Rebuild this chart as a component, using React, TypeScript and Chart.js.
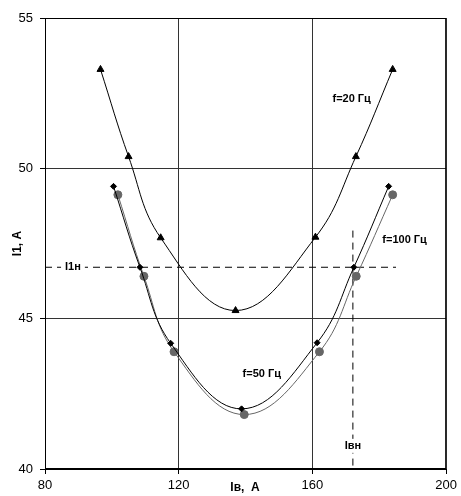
import React, { useEffect, useRef } from "react";
import { Chart, registerables } from "chart.js";

Chart.register(...registerables);

// Data
const iv20 = [96.6, 105.0, 114.6, 137.0, 160.9, 173.0, 184.0];
const i20 = [53.29, 50.39, 47.69, 45.27, 47.71, 50.39, 53.29];
const iv50 = [100.5, 108.4, 117.6, 138.8, 161.4, 172.4, 182.8];
const i50 = [49.4, 46.71, 44.18, 42.0, 44.2, 46.71, 49.4];
const iv100 = [101.8, 109.6, 118.6, 139.6, 162.1, 173.1, 184.0];
const i100 = [49.12, 46.41, 43.9, 41.81, 43.9, 46.41, 49.12];

const i1nLineX = [80, 185];
const i1nLineY = [46.71, 46.71];
const ivnLineX = [172.1, 172.1];
const ivnLineY = [47.93, 40];

const xTicks = [80, 120, 160, 200];
const yTicks = [40, 45, 50, 55];

const pts = (xs: number[], ys: number[]) => xs.map((x, i) => ({ x, y: ys[i] }));

const textPlugin = {
  id: "texts",
  afterDatasetsDraw(chart: any) {
    const { ctx, scales } = chart;
    const sx = scales.x;
    const sy = scales.y;
    ctx.save();
    ctx.fillStyle = "#000";
    ctx.textBaseline = "middle";
    const label = (
      t: string,
      vx: number,
      vy: number,
      align: CanvasTextAlign,
      bg: boolean
    ) => {
      const px = sx.getPixelForValue(vx);
      const py = sy.getPixelForValue(vy);
      ctx.font = "bold 11px 'Liberation Sans', Arial, sans-serif";
      const w = ctx.measureText(t).width;
      if (bg) {
        ctx.fillStyle = "#fff";
        const left = align === "center" ? px - w / 2 : px;
        ctx.fillRect(left - 4, py - 7, w + 8, 14);
        ctx.fillStyle = "#000";
      }
      ctx.textAlign = align;
      ctx.fillText(t, px, py);
    };
    label("f=20 Гц", 166.0, 52.3, "left", false);
    label("f=100 Гц", 180.9, 47.63, "left", false);
    label("f=50 Гц", 139.1, 43.17, "left", false);
    label("I1н", 86.0, 46.73, "left", true);
    label("Iвн", 172.1, 40.77, "center", true);

    // axis titles
    ctx.font = "bold 12px 'Liberation Sans', Arial, sans-serif";
    ctx.textAlign = "center";
    ctx.fillText("Iв,  А", 245, 488);
    ctx.translate(17.5, 243.5);
    ctx.rotate(-Math.PI / 2);
    ctx.fillText("I1, A", 0, 0);
    ctx.restore();
  },
};

export default function App() {
  const ref = useRef<HTMLCanvasElement>(null);
  useEffect(() => {
    if (!ref.current) return;
    const font = { family: "'Liberation Sans', Arial, sans-serif", size: 13 };
    const chart = new Chart(ref.current, {
      type: "scatter",
      data: {
        datasets: [
          {
            label: "f=20 Гц",
            data: pts(iv20, i20),
            showLine: true,
            borderColor: "#000",
            backgroundColor: "#000",
            borderWidth: 1,
            tension: 0.4,
            pointStyle: "triangle",
            pointRadius: 4,
          },
          {
            label: "f=50 Гц",
            data: pts(iv50, i50),
            showLine: true,
            borderColor: "#000",
            backgroundColor: "#000",
            borderWidth: 1,
            tension: 0.4,
            pointStyle: "rectRot",
            pointRadius: 3,
          },
          {
            label: "f=100 Гц",
            data: pts(iv100, i100),
            showLine: true,
            borderColor: "#666",
            backgroundColor: "#666",
            borderWidth: 1,
            tension: 0.4,
            pointStyle: "circle",
            pointRadius: 4,
          },
          {
            label: "I1н",
            data: pts(i1nLineX, i1nLineY),
            showLine: true,
            borderColor: "#000",
            borderWidth: 1,
            borderDash: [7, 5],
            pointRadius: 0,
            tension: 0,
          },
          {
            label: "Iвн",
            data: pts(ivnLineX, ivnLineY),
            showLine: true,
            borderColor: "#000",
            borderWidth: 1,
            borderDash: [7, 5],
            pointRadius: 0,
            tension: 0,
          },
        ],
      },
      options: {
        animation: false,
        responsive: true,
        maintainAspectRatio: false,
        layout: { padding: { top: 18, right: 14, left: 0, bottom: 0 } },
        plugins: {
          legend: { display: false },
          tooltip: { enabled: false },
        },
        scales: {
          x: {
            type: "linear",
            min: 80,
            max: 200,
            afterFit: (s: any) => {
              s.height = 27;
            },
            afterBuildTicks: (s: any) => {
              s.ticks = xTicks.map((v) => ({ value: v }));
            },
            ticks: { color: "#000", font, padding: 4, maxRotation: 0 },
            grid: { color: "#333", lineWidth: 1, tickLength: 5, tickColor: "#000" },
            border: { color: "#000", width: 1 },
          },
          y: {
            type: "linear",
            min: 40,
            max: 55,
            afterFit: (s: any) => {
              s.width = 45;
            },
            afterBuildTicks: (s: any) => {
              s.ticks = yTicks.map((v) => ({ value: v }));
            },
            ticks: { color: "#000", font, padding: 7 },
            grid: { color: "#333", lineWidth: 1, tickLength: 5, tickColor: "#000" },
            border: { color: "#000", width: 1 },
          },
        },
      },
      plugins: [
        textPlugin,
        {
          id: "frame",
          afterDatasetsDraw(chart: any) {
            const { ctx, chartArea: a } = chart;
            ctx.save();
            ctx.strokeStyle = "#000";
            ctx.lineWidth = 1;
            ctx.strokeRect(a.left + 0.5, a.top + 0.5, a.right - a.left - 1, a.bottom - a.top - 1);
            ctx.restore();
          },
        },
      ],
    } as any);
    return () => chart.destroy();
  }, []);
  return (
    <div style={{ position: "absolute", left: 0, top: 0, width: 461, height: 496, background: "#fff" }}>
      <canvas ref={ref} />
    </div>
  );
}
